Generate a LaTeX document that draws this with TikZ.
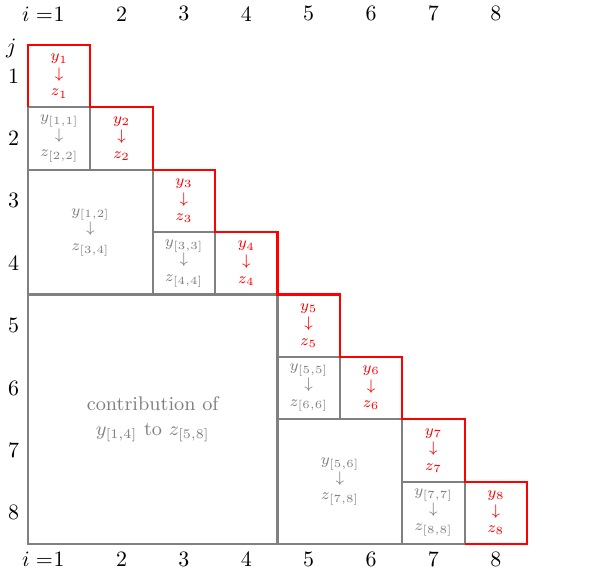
\documentclass[tikz,border=0pt]{standalone}
\begin{document}
\begin{tikzpicture}[x=1cm,y=1cm,
  gridline/.style={draw=gray,line width=1pt},
  redline/.style={draw=red,line width=1pt},
  diaglabel/.style={text=red,font=\scriptsize,align=center,inner sep=1pt},
  blocklabel/.style={text=gray,font=\scriptsize,align=center,inner sep=1pt},
  axislabel/.style={font=\normalsize}]
\useasboundingbox (-0.449,0.721) rectangle (9.122,-8.497);
% gray block structure
\draw[gridline] (0,-1) -- (0,-8) -- (7,-8);
\draw[gridline] (0,-1) rectangle (1,-2);
\draw[gridline] (0,-2) rectangle (2,-4);
\draw[gridline] (2,-3) rectangle (3,-4);
\draw[gridline] (0,-4) rectangle (4,-8);
\draw[gridline] (4,-5) rectangle (5,-6);
\draw[gridline] (4,-6) rectangle (6,-8);
\draw[gridline] (6,-7) rectangle (7,-8);
% red staircase
\draw[redline] (0,-1) -- (0,0) -- (1,0) -- (1,-1) -- (2,-1) -- (2,-2) -- (3,-2) -- (3,-3)
  -- (4,-3) -- (4,-4) -- (5,-4) -- (5,-5) -- (6,-5) -- (6,-6) -- (7,-6) -- (7,-7)
  -- (8,-7) -- (8,-8) -- (7,-8);
% diagonal labels
\foreach \k in {1,...,8}{
  \node[diaglabel] (d\k) at (\k-0.5,-\k+0.5) {$y_{\k}$\\$\downarrow$\\$z_{\k}$};
}
% block labels
\node[blocklabel] (b11) at (0.5,-1.5) {$y_{[1,1]}$\\$\downarrow$\\$z_{[2,2]}$};
\node[blocklabel] (b12) at (1,-3) {$y_{[1,2]}$\\$\downarrow$\\$z_{[3,4]}$};
\node[blocklabel] (b33) at (2.5,-3.5) {$y_{[3,3]}$\\$\downarrow$\\$z_{[4,4]}$};
\node[blocklabel] (b55) at (4.5,-5.5) {$y_{[5,5]}$\\$\downarrow$\\$z_{[6,6]}$};
\node[blocklabel] (b56) at (5,-7) {$y_{[5,6]}$\\$\downarrow$\\$z_{[7,8]}$};
\node[blocklabel] (b77) at (6.5,-7.5) {$y_{[7,7]}$\\$\downarrow$\\$z_{[8,8]}$};
\node[text=gray,font=\small,align=center] (b14) at (2,-6) {contribution of\\$y_{[1,4]}$ to $z_{[5,8]}$};
% axis labels
\foreach \k in {1,...,8}{
  \node[axislabel] (t\k) at (\k-0.5,0.5) {\k};
  \node[axislabel,anchor=north] (u\k) at (\k-0.5,-8) {\k};
  \node[axislabel] (r\k) at (-0.23,-\k+0.5) {\k};
}
\node[axislabel,anchor=base east,inner sep=0pt] (ti) at ([xshift=0.3333em]t1.base west) {$i=$};
\node[axislabel,anchor=base east,inner sep=0pt] (ui) at ([xshift=0.3333em]u1.base west) {$i=$};
\node[axislabel] (jl) at (-0.27,-0.05) {$j$};
\end{tikzpicture}
\end{document}
